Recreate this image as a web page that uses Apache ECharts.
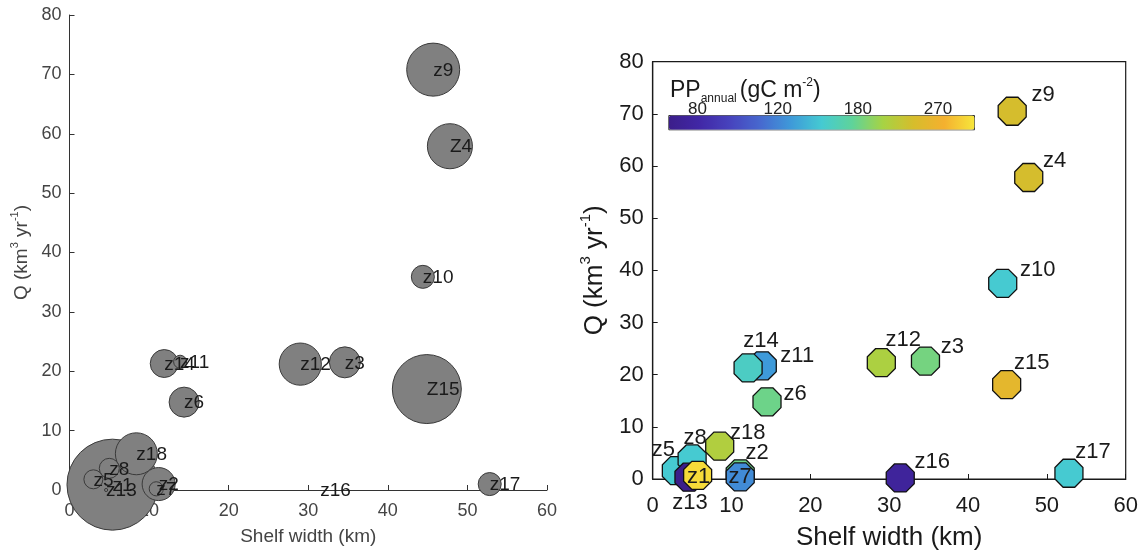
<!DOCTYPE html>
<html>
<head>
<meta charset="utf-8">
<script src="https://cdn.jsdelivr.net/npm/echarts@6/dist/echarts.min.js"></script>
<style>
  html, body { margin: 0; padding: 0; background: #fff; }
  #chart { width: 1143px; height: 556px; }
</style>
</head>
<body>
<div id="chart"></div>
<script>
// station names (z1..z18)
const names = ['z1', 'z2', 'z3', 'z4', 'z5', 'z6', 'z7', 'z8', 'z9', 'z10', 'z11', 'z12', 'z13', 'z14', 'z15', 'z16', 'z17', 'z18']
const leftNames = ['z1', 'z2', 'z3', 'Z4', 'z5', 'z6', 'z7', 'z8', 'z9', 'z10', 'z11', 'z12', 'z13', 'z14', 'Z15', 'z16', 'z17', 'z18']

// left panel: bubble chart
const leftShelf = [5.4, 11.2, 34.6, 47.8, 3.0, 14.4, 10.9, 5.0, 45.7, 44.4, 13.9, 29.0, 4.6, 11.9, 44.9, 31.5, 52.8, 8.4]
const leftQ = [0.9, 1.0, 21.5, 57.9, 1.8, 14.8, 0.2, 3.65, 70.8, 35.9, 21.6, 21.2, 0, 21.3, 17.0, 0, 1.0, 6.1]
const bubbleValue = [82.8, 10.9, 9.6, 20.3, 3.6, 9.0, 2.0, 4.0, 28.1, 5.3, 1.7, 17.8, 0.1, 7.8, 47.6, 0, 5.3, 17.6]

// right panel: scatter coloured by annual PP
const rightShelf = [5.7, 11.1, 34.6, 47.7, 3.0, 14.5, 11.1, 5.0, 45.6, 44.4, 13.9, 29.0, 4.6, 12.1, 44.9, 31.4, 52.8, 8.5]
const rightQ = [0.7, 1.0, 22.6, 57.8, 1.6, 14.8, 0.4, 3.85, 70.5, 37.5, 21.7, 22.3, 0.35, 21.3, 18.1, 0.2, 1.1, 6.3]
const ppAnnual = [314, 180, 183, 237, 150, 180, 122, 150, 237, 150, 128, 208, 69, 156, 256, 76, 150, 211]

const ppTicks = [80, 120, 180, 270]
const ppMin = 69
const ppMax = 324

const font = 'Liberation Sans, Arial, sans-serif'
const colorStops = ['#3b1e8a', '#4127a6', '#4743bd', '#4769cf', '#3e9ad9', '#45cad2',
  '#5fd39a', '#a6d344', '#d6bd2c', '#f4b02f', '#f7e63b']

// label placement for the right panel (pixels from marker centre)
const rightLabelOffset = {
  z1: [1, 2], z2: [17, -21], z3: [27, -14], z4: [26, -17], z5: [-13, -21], z6: [28, -8],
  z7: [0, 0], z8: [3, -21], z9: [31, -16], z10: [35, -13], z11: [35, -10], z12: [22, -23],
  z13: [1, 26], z14: [13, -27], z15: [25, -22], z16: [32, -16], z17: [24, -21], z18: [28, -13]
}

const octagon = 'path://M0.383,-0.924L0.924,-0.383L0.924,0.383L0.383,0.924L-0.383,0.924L-0.924,0.383L-0.924,-0.383L-0.383,-0.924Z'

// bigger bubbles first so the small ones sit on top
const leftOrder = names.map((n, i) => i).sort((a, b) => bubbleValue[b] - bubbleValue[a])
// z1 is drawn last on the right panel
const rightOrder = names.map((n, i) => i).filter(i => names[i] !== 'z1').concat(names.indexOf('z1'))

const chart = echarts.init(document.getElementById('chart'))

chart.setOption({
  backgroundColor: '#fff',
  animation: false,
  textStyle: { fontFamily: font },
  grid: [
    { left: 69.5, top: 15, width: 477.5, height: 475 },
    { left: 652.7, top: 61.7, width: 473, height: 419.3, show: true, borderColor: '#1a1a1a', borderWidth: 1.2 },
    { left: 668.3, top: 115, width: 305.7, height: 14.3 }
  ],
  xAxis: [
    {
      gridIndex: 0, type: 'value', min: 0, max: 60, interval: 10,
      axisLine: { lineStyle: { color: '#333', width: 1 } },
      axisTick: { inside: true, length: 5, lineStyle: { color: '#333' } },
      axisLabel: { fontSize: 18, color: '#444', margin: 12 },
      splitLine: { show: false },
      name: 'Shelf width (km)', nameLocation: 'middle', nameGap: 37,
      nameTextStyle: { fontSize: 19, color: '#444' }
    },
    {
      gridIndex: 1, type: 'value', min: 0, max: 60, interval: 10,
      axisLine: { lineStyle: { color: '#1a1a1a', width: 1.2 } },
      axisTick: { inside: true, length: 5, lineStyle: { color: '#1a1a1a' } },
      axisLabel: { fontSize: 22, color: '#1a1a1a', margin: 16 },
      splitLine: { show: false },
      name: 'Shelf width (km)', nameLocation: 'middle', nameGap: 46,
      nameTextStyle: { fontSize: 26, color: '#1a1a1a' }
    },
    {
      gridIndex: 2, type: 'value', min: Math.log(ppMin), max: Math.log(ppMax), position: 'top',
      axisLine: { show: false },
      axisTick: { show: false },
      splitLine: { show: false },
      axisLabel: {
        customValues: ppTicks.map(v => Math.log(v)),
        formatter: v => String(Math.round(Math.exp(v))),
        fontSize: 17, color: '#222', margin: -3
      }
    }
  ],
  yAxis: [
    {
      gridIndex: 0, type: 'value', min: 0, max: 80, interval: 10,
      axisLine: { lineStyle: { color: '#333', width: 1 } },
      axisTick: { inside: true, length: 5, lineStyle: { color: '#333' } },
      axisLabel: { fontSize: 18, color: '#444', margin: 8 },
      splitLine: { show: false },
      name: '{a|Q (km}{s|3}{a| yr}{s|-1}{a|)}', nameLocation: 'middle', nameGap: 36,
      nameTextStyle: {
        rich: {
          a: { fontSize: 19, color: '#444', fontFamily: font, lineHeight: 24, verticalAlign: 'middle' },
          s: { fontSize: 11, color: '#444', fontFamily: font, lineHeight: 24, verticalAlign: 'top' }
        }
      }
    },
    {
      gridIndex: 1, type: 'value', min: 0, max: 80, interval: 10,
      axisLine: { lineStyle: { color: '#1a1a1a', width: 1.2 } },
      axisTick: { inside: true, length: 5, lineStyle: { color: '#1a1a1a' } },
      axisLabel: { fontSize: 22, color: '#1a1a1a', margin: 9 },
      splitLine: { show: false },
      name: '{a|Q (km}{s|3}{a| yr}{s|-1}{a|)}', nameLocation: 'middle', nameGap: 42,
      nameTextStyle: {
        rich: {
          a: { fontSize: 26, color: '#1a1a1a', fontFamily: font, lineHeight: 32, verticalAlign: 'middle' },
          s: { fontSize: 15, color: '#1a1a1a', fontFamily: font, lineHeight: 32, verticalAlign: 'top' }
        }
      }
    },
    { gridIndex: 2, type: 'value', show: false }
  ],
  visualMap: {
    type: 'continuous',
    seriesIndex: 1,
    dimension: 2,
    min: Math.log(ppMin),
    max: Math.log(ppMax),
    orient: 'horizontal',
    left: 668.3,
    top: 115,
    itemWidth: 14.3,
    itemHeight: 305.7,
    padding: 0,
    calculable: false,
    hoverLink: false,
    borderColor: '#333',
    borderWidth: 1,
    inRange: { color: colorStops }
  },
  graphic: [{
    type: 'text',
    left: 670,
    top: 77,
    style: {
      text: '{a|PP}{b|annual}{a|(gC m}{c|-2}{a|)}',
      rich: {
        a: { fontSize: 23, fontFamily: font, fill: '#1a1a1a', lineHeight: 28, verticalAlign: 'middle' },
        b: { fontSize: 12, fontFamily: font, fill: '#1a1a1a', lineHeight: 28, verticalAlign: 'bottom', padding: [0, 3, 0, 0] },
        c: { fontSize: 12, fontFamily: font, fill: '#1a1a1a', lineHeight: 28, verticalAlign: 'top' }
      }
    }
  }],
  series: [
    {
      type: 'scatter',
      xAxisIndex: 0,
      yAxisIndex: 0,
      clip: false,
      data: leftOrder.map(i => ({ name: leftNames[i], value: [leftShelf[i], leftQ[i], bubbleValue[i]] })),
      symbolSize: v => 10 * Math.sqrt(v[2]),
      itemStyle: { color: '#808080', borderColor: '#3a3a3a', borderWidth: 1, opacity: 1 },
      label: {
        show: true, position: 'inside', align: 'left', offset: [0, 1],
        formatter: '{b}', fontSize: 19, color: '#1a1a1a', fontFamily: font
      }
    },
    {
      type: 'scatter',
      xAxisIndex: 1,
      yAxisIndex: 1,
      clip: false,
      symbol: octagon,
      symbolSize: 28,
      data: rightOrder.map(i => ({
        name: names[i],
        value: [rightShelf[i], rightQ[i], Math.log(ppAnnual[i])],
        label: { offset: rightLabelOffset[names[i]] }
      })),
      itemStyle: { borderColor: '#111', borderWidth: 1.3, opacity: 1 },
      label: {
        show: true, position: 'inside', formatter: '{b}',
        fontSize: 22, color: '#1a1a1a', fontFamily: font
      }
    }
  ]
})
</script>
</body>
</html>
